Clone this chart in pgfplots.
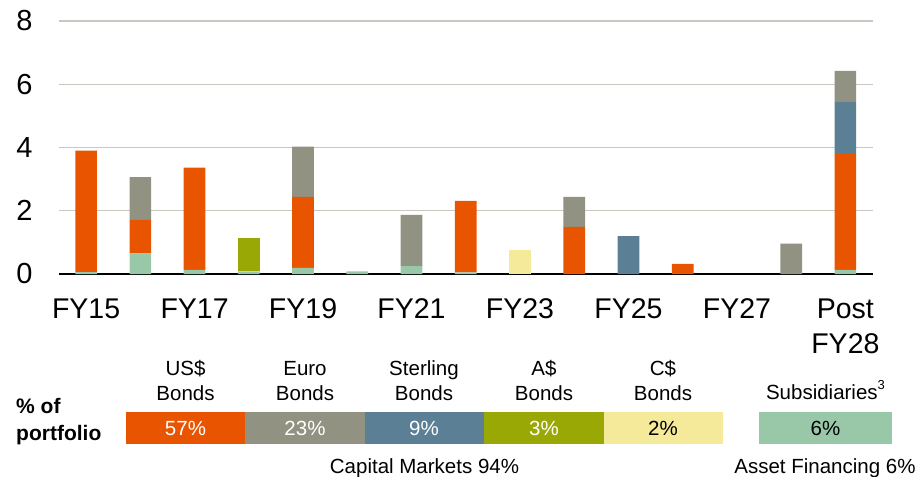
\documentclass[border=0pt]{standalone}
\usepackage{fontspec}
\setmainfont{Liberation Sans}
\usepackage{pgfplots}
\pgfplotsset{compat=1.18}
\definecolor{cOr}{HTML}{E85400}
\definecolor{cGy}{HTML}{929282}
\definecolor{cBl}{HTML}{5B7F94}
\definecolor{cOl}{HTML}{9AA806}
\definecolor{cYe}{HTML}{F4EA9A}
\definecolor{cGr}{HTML}{98C8A8}
\definecolor{cGrid}{HTML}{C8C8C0}
\begin{document}
\begin{tikzpicture}
\path[use as bounding box] (0,0) rectangle (922pt,-477pt);
\begin{axis}[
  at={(59pt,-274pt)}, anchor=south west,
  scale only axis, width=813.5pt, height=253pt,
  ybar stacked, bar width=21.7pt,
  xmin=-0.5, xmax=14.5, ymin=0, ymax=8,
  xtick={0,2,4,6,8,10,12,14},
  xticklabels={FY15,FY17,FY19,FY21,FY23,FY25,FY27,{Post\\FY28}},
  ytick={0,2,4,6,8},
  axis x line=bottom, axis y line=left,
  x axis line style={black,line width=1.5pt,-},
  y axis line style={draw=none},
  major tick length=0pt,
  ymajorgrids, grid style={color=cGrid,line width=1.4pt},
  xticklabel style={font=\fontsize{28.5}{35}\selectfont, align=center, anchor=north, yshift=-21pt},
  yticklabel style={font=\fontsize{29}{29}\selectfont, xshift=-23pt},
  /pgf/number format/assume math mode=true,
  every axis plot/.append style={draw=none},
]
\addplot[fill=cGr] coordinates {(0,0.06) (1,0.65) (2,0.13) (3,0.08) (4,0.19) (5,0.08) (6,0.25) (7,0.05) (8,0) (9,0) (10,0) (11,0) (12,0) (13,0) (14,0.13)};
\addplot[fill=cOr] coordinates {(0,3.84) (1,1.06) (2,3.23) (3,0) (4,2.25) (5,0) (6,0) (7,2.26) (8,0) (9,1.49) (10,0) (11,0.32) (12,0) (13,0) (14,3.69)};
\addplot[fill=cOl] coordinates {(0,0) (1,0) (2,0) (3,1.06) (4,0) (5,0) (6,0) (7,0) (8,0) (9,0) (10,0) (11,0) (12,0) (13,0) (14,0)};
\addplot[fill=cYe] coordinates {(0,0) (1,0) (2,0) (3,0) (4,0) (5,0) (6,0) (7,0) (8,0.76) (9,0) (10,0) (11,0) (12,0) (13,0) (14,0)};
\addplot[fill=cBl] coordinates {(0,0) (1,0) (2,0) (3,0) (4,0) (5,0) (6,0) (7,0) (8,0) (9,0) (10,1.2) (11,0) (12,0) (13,0) (14,1.62)};
\addplot[fill=cGy] coordinates {(0,0) (1,1.35) (2,0) (3,0) (4,1.59) (5,0) (6,1.62) (7,0) (8,0) (9,0.95) (10,0) (11,0) (12,0) (13,0.96) (14,0.98)};
\end{axis}
% legend table
\begin{scope}[every node/.style={font=\fontsize{20.5}{25}\selectfont, inner sep=0pt}]
\node[anchor=base west, font=\fontsize{21}{25}\selectfont\bfseries] at (16pt,-413pt) {\% of};
\node[anchor=base west, font=\fontsize{21}{25}\selectfont\bfseries] at (16pt,-440pt) {portfolio};
\fill[cOr] (126pt,-411.5pt) rectangle (245pt,-443.5pt);
\fill[cGy] (245pt,-411.5pt) rectangle (364.5pt,-443.5pt);
\fill[cBl] (364.5pt,-411.5pt) rectangle (484pt,-443.5pt);
\fill[cOl] (484pt,-411.5pt) rectangle (603.5pt,-443.5pt);
\fill[cYe] (603.5pt,-411.5pt) rectangle (723pt,-443.5pt);
\fill[cGr] (759pt,-411.5pt) rectangle (892pt,-443.5pt);
\node[anchor=base, white] at (185.5pt,-435pt) {57\%};
\node[anchor=base, white] at (305pt,-435pt) {23\%};
\node[anchor=base, white] at (424pt,-435pt) {9\%};
\node[anchor=base, white] at (544pt,-435pt) {3\%};
\node[anchor=base, black] at (663pt,-435pt) {2\%};
\node[anchor=base, black] at (825.5pt,-435pt) {6\%};
\node[anchor=base] at (185.5pt,-375pt) {US\$};
\node[anchor=base] at (185.5pt,-400pt) {Bonds};
\node[anchor=base] at (305pt,-375pt) {Euro};
\node[anchor=base] at (305pt,-400pt) {Bonds};
\node[anchor=base] at (424pt,-375pt) {Sterling};
\node[anchor=base] at (424pt,-400pt) {Bonds};
\node[anchor=base] at (544pt,-375pt) {A\$};
\node[anchor=base] at (544pt,-400pt) {Bonds};
\node[anchor=base] at (663pt,-375pt) {C\$};
\node[anchor=base] at (663pt,-400pt) {Bonds};
\node[anchor=base] at (825.5pt,-399pt) {Subsidiaries\raisebox{0.45em}{\fontsize{13}{13}\selectfont 3}};
\node[anchor=base] at (424.5pt,-473pt) {Capital Markets 94\%};
\node[anchor=base] at (825pt,-473pt) {Asset Financing 6\%};
\end{scope}
\end{tikzpicture}
\end{document}
